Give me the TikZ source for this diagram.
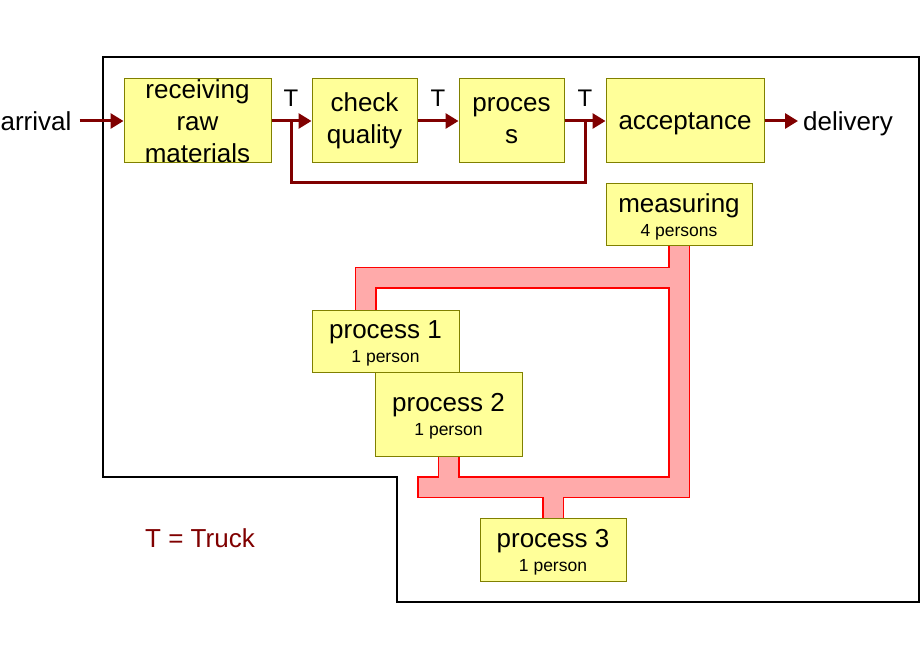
\documentclass[tikz,border=0pt]{standalone}
\usepackage{fontspec}
\setmainfont{Liberation Sans}
\usetikzlibrary{arrows.meta, positioning, backgrounds}
\definecolor{boxyellow}{RGB}{255,255,153}
\definecolor{boxolive}{RGB}{128,128,0}
\definecolor{truckred}{RGB}{128,0,0}
\definecolor{pipepink}{RGB}{255,170,170}
\definecolor{pipered}{RGB}{255,0,0}
\newcommand{\duty}[2]{\rule{0pt}{23pt}#1\\[-8pt]{\fontsize{17.5}{20}\selectfont #2}}

\begin{document}
\begin{tikzpicture}[x=1pt, y=-1pt,
    stage/.style={draw=boxolive, fill=boxyellow, line width=1pt, inner sep=0pt,
                  align=center, font=\fontsize{26}{32}\selectfont},
    word/.style={font=\fontsize{26}{30}\selectfont},
    tlab/.style={font=\fontsize{24}{28}\selectfont},
    flow/.style={draw=truckred, line width=3pt, -{Triangle[length=13pt,width=15pt]}},
    loopline/.style={draw=truckred, line width=3pt}]
            \useasboundingbox (0,0) rectangle (920,660);

            % Stages along the top
            \node[stage, minimum width=147pt, minimum height=84pt] (recv) at (197.5,121) {receiving\\raw\\materials};
            \node[stage, minimum width=105pt, minimum height=84pt] (check) at (364.5,121) {check\\quality};
            \node[stage, minimum width=105pt, minimum height=84pt] (proces) at (511.5,121) {proces\\s};
            \node[stage, minimum width=158pt, minimum height=84pt] (accept) at (685,121) {\rule{0pt}{23pt}acceptance};
            \node[word, inner sep=8pt] (arrival) at (36,121) {arrival};
            \node[word, inner sep=5pt, text depth=0pt] (delivery) at (848,121) {delivery};

            % Measuring and processes
            \node[stage, minimum width=146pt, minimum height=62pt] (measure) at (679,215) {\duty{measuring}{4 persons}};
            \node[stage, minimum width=147pt, minimum height=62pt] (proc1) at (385.5,341) {\duty{process 1}{1 person}};
            \node[stage, minimum width=147pt, minimum height=84pt] (proc2) at (448.5,414) {\duty{process 2}{1 person}};
            \node[stage, minimum width=146pt, minimum height=63pt] (proc3) at (553,549.5) {\duty{process 3}{1 person}};

            % Truck labels
            \node[tlab] (tA) at (291,98) {T};
            \node[tlab] (tB) at (438,98) {T};
            \node[tlab] (tC) at (585,98) {T};
            \node[word, text=truckred] (legend) at (200,538) {T = Truck};

            % Flow of goods
            \draw[flow] (arrival) -- (recv);
            \draw[flow] (recv) -- (check);
            \draw[flow] (check) -- (proces);
            \draw[flow] (proces) -- (accept);
            \draw[flow] (accept) -- (delivery);
            \coordinate (tfork) at (291,121);
            \coordinate (tjoin) at (585,121);
            \draw[loopline] (tfork) -- ++(0,62) -| (tjoin);

            \begin{scope}[on background layer]
                % Site boundary
                \draw[line width=1.5pt] (103,57) -- (919,57) -- (919,602) -- (397,602)
                    -- (397,477) -- (103,477) -- cycle;
                % Staff pipe
                \coordinate (pipetop) at (679,277.5);
                \coordinate (pipebot) at (679,487);
                \coordinate (pipeend) at (428,487);
                \foreach \pw/\pc in {22/pipered, 19/pipepink} {
                    \draw[line width=\pw pt, \pc, line cap=rect, line join=miter]
                        ([xshift=-20pt]proc1.north) |- (pipetop)
                        (measure.south) -- (pipebot) -- (pipeend)
                        (proc2.south) -- (proc2.south |- pipebot)
                        (proc3.north) -- (proc3.north |- pipebot);
                }
            \end{scope}
        \end{tikzpicture}
\end{document}
